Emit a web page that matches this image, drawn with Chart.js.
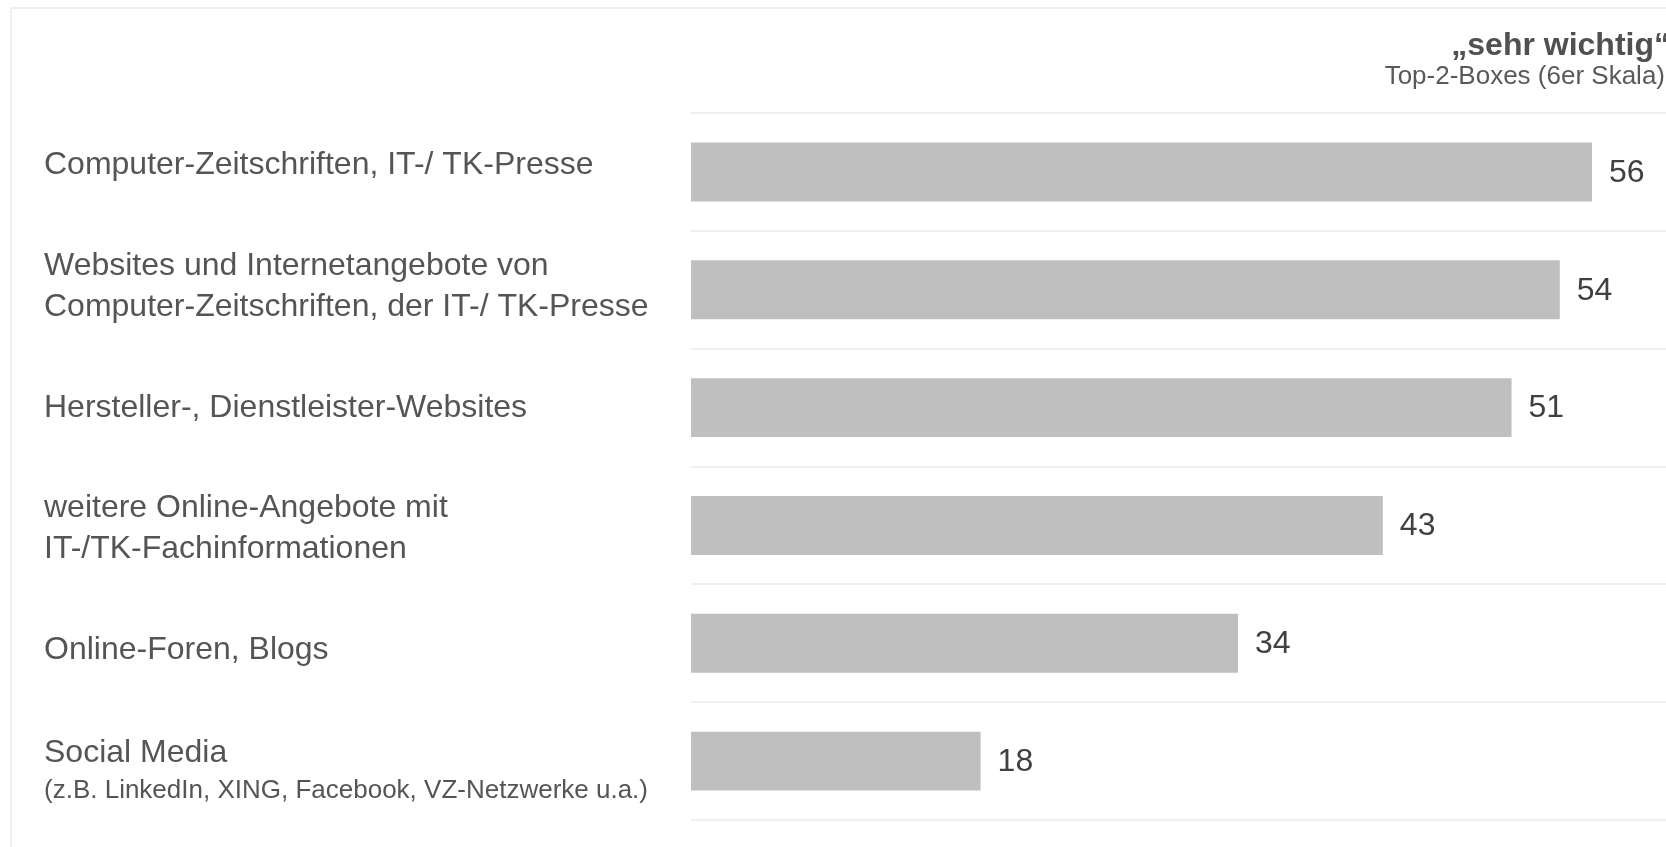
<!DOCTYPE html>
<html>
<head>
<meta charset="utf-8">
<script src="https://cdn.jsdelivr.net/npm/chart.js@4"></script>
<style>
  html, body { margin: 0; padding: 0; background: #fff; }
  #wrap { width: 1666px; height: 847px; position: relative; }
</style>
</head>
<body>
<div id="wrap"><canvas id="c" width="1666" height="847"></canvas></div>
<script>
// rows, top to bottom
const categories = [
    ['Computer-Zeitschriften, IT-/ TK-Presse'],
    ['Websites und Internetangebote von', 'Computer-Zeitschriften, der IT-/ TK-Presse'],
    ['Hersteller-, Dienstleister-Websites'],
    ['weitere Online-Angebote mit', 'IT-/TK-Fachinformationen'],
    ['Online-Foren, Blogs'],
    ['Social Media']
]
const categoryNotes = ['', '', '', '', '', '(z.B. LinkedIn, XING, Facebook, VZ-Netzwerke u.a.)']
const values = [56, 54, 51, 43, 34, 18]
const headerTitle = '\u201Esehr wichtig\u201C'
const headerSubtitle = 'Top-2-Boxes (6er Skala)'

const FONT = "'Liberation Sans', Arial, Helvetica, sans-serif"

//frame, header, row labels and value labels — drawn on top of the library's scales
const decorations = {
    id: 'decorations',
    beforeDraw(chart) {
        const ctx = chart.ctx
        ctx.save()
        ctx.strokeStyle = '#f0f0f0'
        ctx.lineWidth = 2
        ctx.strokeRect(11, 8, 1700, 900)
        ctx.restore()
    },
    afterDatasetsDraw(chart) {
        const ctx = chart.ctx
        const y = chart.scales.y
        const meta = chart.getDatasetMeta(0)
        ctx.save()

        //header, anchored past the right edge like the source
        ctx.textAlign = 'right'
        ctx.textBaseline = 'alphabetic'
        ctx.fillStyle = '#505050'
        ctx.font = 'bold 32px ' + FONT
        ctx.fillText(headerTitle, 1670, 55)
        ctx.fillStyle = '#595959'
        ctx.font = '26px ' + FONT
        ctx.fillText(headerSubtitle, 1665, 84)

        //row labels
        ctx.textAlign = 'left'
        ctx.textBaseline = 'middle'
        categories.forEach((lines, i) => {
            const note = categoryNotes[i]
            const rows = lines.map(t => ({t, size: 32, gap: 41}))
            if (note) rows.push({t: note, size: 26, gap: 38})
            let h = 0
            rows.forEach((r, k) => { if (k > 0) h += r.gap })
            const cy = y.getPixelForValue(i) + (i - 2.5) * 3.5 + 2
            let ty = cy - h / 2
            ctx.fillStyle = '#555555'
            rows.forEach((r, k) => {
                if (k > 0) ty += r.gap
                ctx.font = r.size + 'px ' + FONT
                ctx.fillText(r.t, 44, ty)
            })
        })

        //value labels
        ctx.fillStyle = '#404040'
        ctx.font = '32px ' + FONT
        meta.data.forEach((bar, i) => {
            ctx.fillText(String(values[i]), bar.x + 17, bar.y + 1)
        })
        ctx.restore()
    }
}

new Chart(document.getElementById('c'), {
    type: 'bar',
    data: {
        labels: categories.map(l => l.join(' ')),
        datasets: [{
            data: values,
            backgroundColor: '#bfbfbf',
            borderWidth: 0,
            categoryPercentage: 1,
            barPercentage: 0.5
        }]
    },
    options: {
        indexAxis: 'y',
        responsive: false,
        animation: false,
        devicePixelRatio: 1,
        layout: {padding: {left: 691, top: 113, right: 0, bottom: 27}},
        plugins: {legend: {display: false}, tooltip: {enabled: false}},
        scales: {
            x: {display: false, min: 0, max: 60.6},
            y: {
                display: true,
                ticks: {display: false},
                grid: {offset: true, drawTicks: false, color: '#efefef', lineWidth: 2},
                border: {display: false}
            }
        }
    },
    plugins: [decorations]
})
</script>
</body>
</html>
